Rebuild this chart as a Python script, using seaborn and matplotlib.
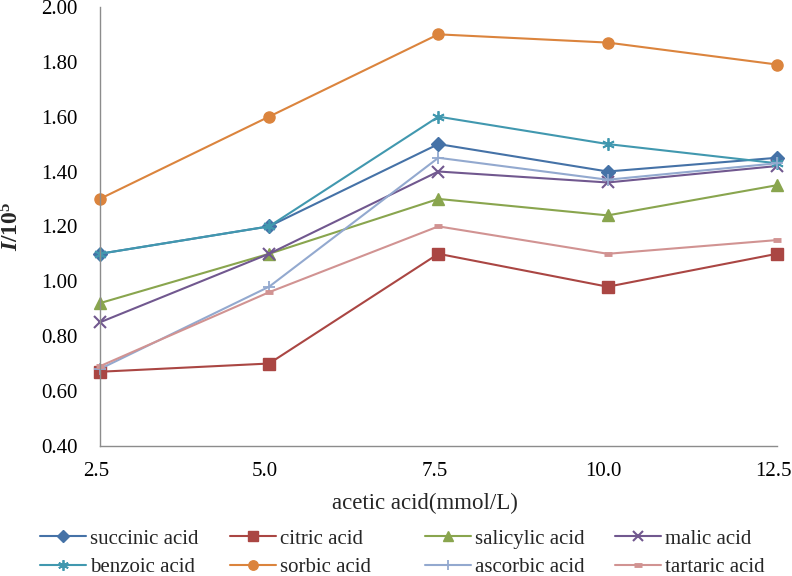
import numpy as np
import pandas as pd
import seaborn as sns
import matplotlib.pyplot as plt
from matplotlib.transforms import ScaledTranslation

# acetic acid concentration (mmol/L)
acetic = [2.5, 5.0, 7.5, 10.0, 12.5]

succinic = [1.10, 1.20, 1.50, 1.40, 1.45]
citric = [0.67, 0.70, 1.10, 0.98, 1.10]
salicylic = [0.92, 1.10, 1.30, 1.24, 1.35]
malic = [0.85, 1.10, 1.40, 1.36, 1.42]
benzoic = [1.10, 1.20, 1.60, 1.50, 1.43]
sorbic = [1.30, 1.60, 1.90, 1.87, 1.79]
ascorbic = [0.68, 0.98, 1.45, 1.37, 1.43]
tartaric = [0.69, 0.96, 1.20, 1.10, 1.15]

names = ['succinic acid', 'citric acid', 'salicylic acid', 'malic acid',
         'benzoic acid', 'sorbic acid', 'ascorbic acid', 'tartaric acid']
series = [succinic, citric, salicylic, malic, benzoic, sorbic, ascorbic, tartaric]
colors = ['#4572A7', '#AA4643', '#89A54E', '#71588F',
          '#4198AF', '#DB843D', '#93A9CF', '#D19392']
markers = ['D', 's', '^', 'x', (6, 2, 0), 'o', '+', '_']
msizes = [7, 8, 9, 8, 9, 8, 9, 6]
medges = [1, 1, 1, 1.5, 1.3, 1, 1.3, 3.5]

sns.set_style('white')
plt.rcParams['font.family'] = ['Liberation Serif', 'DejaVu Serif']
plt.rcParams['mathtext.fontset'] = 'custom'
plt.rcParams['mathtext.rm'] = 'Liberation Serif:bold'
plt.rcParams['mathtext.it'] = 'Liberation Serif:italic:bold'
plt.rcParams['mathtext.bf'] = 'Liberation Serif:bold'

fig, ax = plt.subplots(figsize=(7.92, 5.76), dpi=100)
fig.subplots_adjust(left=0.126, right=0.981, top=0.988, bottom=0.226)

handles = []
for name, vals, c, m, ms, me in zip(names, series, colors, markers, msizes, medges):
    df = pd.DataFrame({'x': acetic, 'y': vals})
    sns.lineplot(data=df, x='x', y='y', ax=ax, color=c, marker=m, markersize=ms,
                 markeredgewidth=me, markeredgecolor=c, linewidth=1.5, label=name,
                 legend=False)
    handles.append(ax.lines[-1])

ax.set_xlim(2.5, 12.5)
ax.set_ylim(0.40, 2.00)
ax.set_xticks(acetic)
ax.set_xticklabels(['%.1f' % v for v in acetic])
ax.set_yticks(np.arange(0.4, 2.01, 0.2))
ax.set_yticklabels(['%.2f' % v for v in np.arange(0.4, 2.01, 0.2)])

for s in ['top', 'right']:
    ax.spines[s].set_visible(False)
for s in ['left', 'bottom']:
    ax.spines[s].set_color('#8c8c8c')
    ax.spines[s].set_linewidth(1)
ax.tick_params(axis='both', which='major', direction='out', length=5, width=1,
               color='#8c8c8c', labelsize=15, labelcolor='black')
ax.tick_params(axis='y', pad=11)
ax.tick_params(axis='x', pad=7)
for lab in ax.get_xticklabels():
    lab.set_transform(lab.get_transform() + ScaledTranslation(-4 / 100, 0, fig.dpi_scale_trans))
for ln in ax.lines:
    ln.set_clip_on(False)

ax.set_xlabel('acetic acid(mmol/L)', fontsize=16.5)
ax.xaxis.set_label_coords(0.48, -0.108)
ax.set_ylabel(r'$I$/10$^5$', fontsize=17, fontweight='bold')
ax.yaxis.set_label_coords(-0.112, 0.5)

# one small legend per column, placed like the original's grid
col_x = [40, 230, 425, 615]
for k in range(4):
    idx = [k, k + 4]
    fig.legend([handles[i] for i in idx], [names[i] for i in idx],
               loc='upper left', bbox_to_anchor=(col_x[k] / 792, 1 - 529 / 576),
               frameon=False, fontsize=15, handlelength=2.2, handletextpad=0.2,
               labelspacing=0.42, borderaxespad=0, borderpad=0, markerscale=0.85)

fig.savefig('out.png', dpi=100)
